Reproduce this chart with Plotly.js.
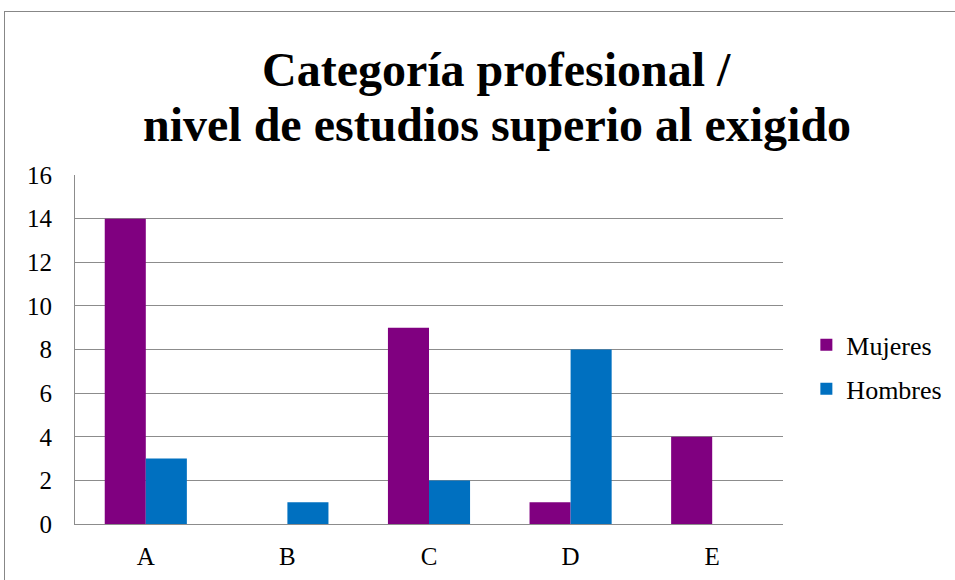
<!DOCTYPE html>
<html>
<head>
<meta charset="utf-8">
<script src="https://cdn.plot.ly/plotly-3.0.1.min.js"></script>
<style>
html,body{margin:0;padding:0;background:#fff;}
#wrap{position:relative;width:955px;height:580px;overflow:hidden;}
#chart{position:absolute;left:0;top:0;width:955px;height:580px;}
#frame{position:absolute;left:4px;top:11px;width:1000px;height:700px;border-top:1px solid #878787;border-left:1px solid #878787;pointer-events:none;}
</style>
</head>
<body>
<div id="wrap"><div id="chart"></div><div id="frame"></div></div>
<script>
const categories = ['A', 'B', 'C', 'D', 'E'];
const mujeres = [14, 0, 9, 1, 4];
const hombres = [3, 1, 2, 8, 0];
const seriesNames = ['Mujeres', 'Hombres'];
const yTicks = [0, 2, 4, 6, 8, 10, 12, 14, 16];
const titleLines = ['Categoría profesional /', 'nivel de estudios superio al exigido'];

const font = 'Liberation Serif, Times New Roman, serif';

const traces = [
  {type: 'bar', name: seriesNames[0], x: categories, y: mujeres, marker: {color: '#800080'}, legendgroup: 'm'},
  {type: 'bar', name: seriesNames[1], x: categories, y: hombres, marker: {color: '#0070C0'}, legendgroup: 'h'}
];

const layout = {
  width: 955, height: 580,
  margin: {l: 75, r: 172, t: 175, b: 56, pad: 0, autoexpand: false},
  paper_bgcolor: '#ffffff', plot_bgcolor: '#ffffff',
  font: {family: font, size: 25, color: '#000'},
  annotations: [
    {text: titleLines[0], xref: 'paper', yref: 'paper', x: 0.596, y: 1.301, xanchor: 'center', yanchor: 'middle',
     showarrow: false, font: {family: font, size: 48, color: '#000', weight: 'bold'}},
    {text: titleLines[1], xref: 'paper', yref: 'paper', x: 0.596, y: 1.146, xanchor: 'center', yanchor: 'middle',
     showarrow: false, font: {family: font, size: 48, color: '#000', weight: 'bold'}}
  ],
  barmode: 'group',
  bargap: 0.42,
  bargroupgap: 0,
  showlegend: true,
  legend: {
    x: 1.033, xanchor: 'left', y: 0.45, yanchor: 'middle',
    font: {family: font, size: 26, color: '#000'},
    traceorder: 'grouped', tracegroupgap: 7,
    bgcolor: 'rgba(0,0,0,0)'
  },
  xaxis: {
    type: 'category',
    showgrid: false,
    showline: true, linecolor: '#8c8c8c', linewidth: 1,
    ticks: '', ticklabelstandoff: 10,
    tickfont: {family: font, size: 25, color: '#000'},
    fixedrange: true
  },
  yaxis: {
    range: [0, 16],
    tickvals: yTicks,
    showgrid: true, gridcolor: '#8c8c8c', gridwidth: 1,
    showline: true, linecolor: '#8c8c8c', linewidth: 1,
    zeroline: false,
    ticks: '', ticklabelstandoff: 17,
    tickfont: {family: font, size: 25, color: '#000'},
    fixedrange: true
  }
};

Plotly.newPlot('chart', traces, layout, {displayModeBar: false, staticPlot: true});
</script>
</body>
</html>
